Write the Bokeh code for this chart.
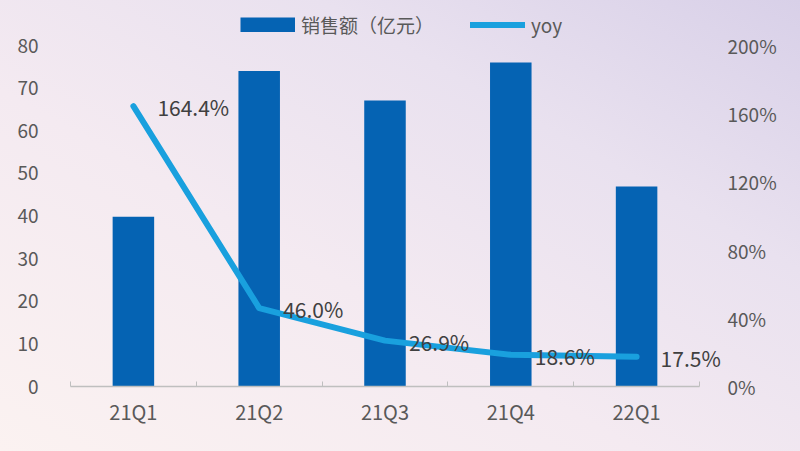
from bokeh.plotting import figure
from bokeh.models import (Range1d, LinearAxis, FixedTicker, ColumnDataSource, Legend,
                          LegendItem, PrintfTickFormatter, GlobalInlineStyleSheet,
                          LabelSet, CustomJSTickFormatter)
from bokeh.embed import file_html
from bokeh.resources import INLINE
from bokeh.core.properties import value

categories = ["21Q1", "21Q2", "21Q3", "21Q4", "22Q1"]
sales = [39.8, 74.0, 67.1, 76.0, 46.9]
yoy = [164.4, 46.0, 26.9, 18.6, 17.5]
left_ticks = [0, 10, 20, 30, 40, 50, 60, 70, 80]
right_ticks = [0, 40, 80, 120, 160, 200]
bar_label = "销售额（亿元）"
line_label = "yoy"

FONT = "Noto Sans CJK SC"
TXT = "#595959"
BAR_COLOR = "#0563b3"
LINE_COLOR = "#19a0de"

# frame spans a little beyond the tick range to leave room for legend / labels
TOP_EXTRA = 376 / 341
xs = list(range(len(categories)))
src = ColumnDataSource(dict(
    x=xs, sales=sales, yoy=yoy,
    yoy_text=["%.1f%%" % v for v in yoy],
))

p = figure(width=800, height=451, output_backend="svg", toolbar_location=None,
           x_range=Range1d(-0.5, len(categories) - 0.5 + 0.175),
           y_range=Range1d(0, left_ticks[-1] * TOP_EXTRA),
           min_border_left=70, min_border_right=79, min_border_top=10, min_border_bottom=65)
p.extra_y_ranges = {"yoy": Range1d(0, right_ticks[-1] * TOP_EXTRA)}

p.background_fill_alpha = 0
p.border_fill_alpha = 0
p.outline_line_color = None
p.xgrid.visible = False
p.ygrid.visible = False

bars = p.vbar(x="x", top="sales", width=0.33, source=src,
              fill_color=BAR_COLOR, line_color=None)
line = p.line(x="x", y="yoy", source=src, y_range_name="yoy",
              line_color=LINE_COLOR, line_width=6, line_cap="round", line_join="round")
# legend swatch proxy for the bars (solid block without inset); draws nothing itself
bar_swatch = p.line(x=xs[:1], y=[float("nan")], line_color=BAR_COLOR, line_width=15,
                    line_cap="butt")

labels = LabelSet(x="x", y="yoy", text="yoy_text", source=src, y_range_name="yoy",
                  x_offset=24, y_offset=-1, text_baseline="middle", text_align="left",
                  text_font=value(FONT), text_font_size=value("21px"),
                  text_color=value("#404040"))
p.add_layout(labels)

# x axis
xa = p.xaxis[0]
xa.bounds = (-0.5, len(categories) - 0.5)
xa.ticker = FixedTicker(ticks=xs, minor_ticks=[i - 0.5 for i in range(len(categories) + 1)])
xa.formatter = CustomJSTickFormatter(args=dict(cats=categories),
                                     code="const c = cats[Math.round(tick)]; return c === undefined ? '' : c;")
xa.axis_line_color = "#bfbfbf"
xa.axis_line_width = 1.5
xa.major_tick_line_color = None
xa.minor_tick_line_color = "#bfbfbf"
xa.minor_tick_in = 5
xa.minor_tick_out = 0
xa.major_label_standoff = 4
xa.major_label_text_font = FONT
xa.major_label_text_font_size = "20px"
xa.major_label_text_color = TXT

# left axis
ya = p.yaxis[0]
ya.ticker = FixedTicker(ticks=left_ticks)
ya.axis_line_color = None
ya.major_tick_line_color = None
ya.minor_tick_line_color = None
ya.major_label_standoff = 26
ya.major_label_text_font = FONT
ya.major_label_text_font_size = "19px"
ya.major_label_text_color = TXT

# right axis
ra = LinearAxis(y_range_name="yoy", ticker=FixedTicker(ticks=right_ticks),
                formatter=PrintfTickFormatter(format="%d%%"))
ra.axis_line_color = None
ra.major_tick_line_color = None
ra.minor_tick_line_color = None
ra.major_label_standoff = 0
ra.major_label_text_font = FONT
ra.major_label_text_font_size = "19px"
ra.major_label_text_color = TXT
p.add_layout(ra, "right")

legend = Legend(items=[LegendItem(label=bar_label, renderers=[bar_swatch]),
                       LegendItem(label=line_label, renderers=[line])],
                location=(170, 348), orientation="horizontal",
                glyph_width=55, glyph_height=15, label_height=22,
                label_standoff=6, spacing=36, padding=0, margin=0,
                border_line_color=None, background_fill_alpha=0,
                label_text_font=FONT, label_text_font_size="19px",
                label_text_color=TXT)
p.add_layout(legend, "center")

p.stylesheets = [GlobalInlineStyleSheet(css="""
html { min-height: 100%; background: linear-gradient(to bottom left, #d8d0e8 0%, #e9e1ef 30%, #f4eaf1 60%, #fbf2f1 100%) fixed; }
body { background: transparent; }
""")]

open("out.html", "w").write(file_html(p, INLINE))
